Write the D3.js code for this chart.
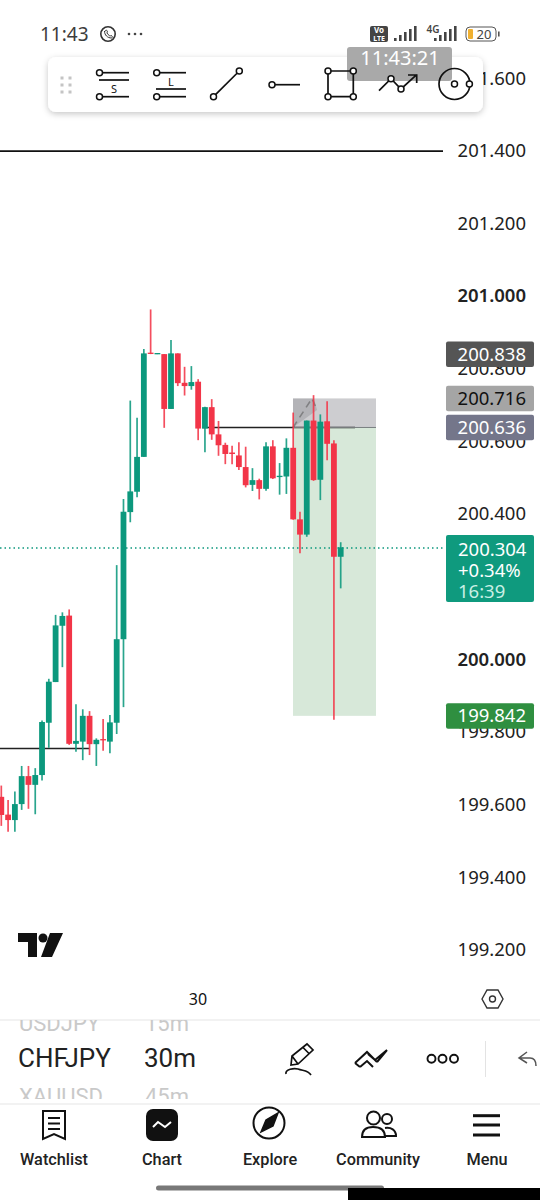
<!DOCTYPE html>
<html><head><meta charset="utf-8">
<script src="https://cdn.jsdelivr.net/npm/d3@7"></script>
<style>html,body{margin:0;padding:0;background:#fff}svg{display:block}text{font-family:"Noto Sans",sans-serif}</style>
</head><body><svg id="c" width="540" height="1200"></svg>
<script>
const priceTicks=[201.6,201.4,201.2,201.0,200.8,200.6,200.4,200.0,199.8,199.6,199.4,199.2];
const boldTicks=[201.0,200.0];
const opens=[199.619,199.570,199.555,199.599,199.676,199.652,199.679,199.823,199.935,200.090,200.118,199.765,199.771,199.842,199.764,199.778,199.771,199.823,200.053,200.403,200.459,200.555,200.842,200.838,200.838,200.687,200.840,200.759,200.750,200.762,200.633,200.692,200.617,200.588,200.567,200.559,200.527,200.478,200.491,200.467,200.584,200.501,200.501,200.580,200.383,200.341,200.655,200.492,200.653,200.592,200.280];
const closes=[199.569,199.555,199.599,199.676,199.652,199.679,199.825,199.936,200.091,200.117,199.765,199.773,199.842,199.764,199.776,199.776,199.824,200.053,200.404,200.460,200.555,200.840,200.839,200.841,200.687,200.840,200.758,200.750,200.761,200.633,200.692,200.617,200.587,200.563,200.563,200.527,200.477,200.491,200.467,200.584,200.496,200.503,200.580,200.383,200.341,200.655,200.491,200.652,200.591,200.280,200.306];
const highs=[199.650,199.610,199.634,199.704,199.704,199.698,199.829,199.944,200.120,200.127,200.135,199.874,199.860,199.855,199.780,199.833,199.844,200.257,200.439,200.710,200.663,200.852,200.961,200.841,200.838,200.877,200.840,200.803,200.805,200.769,200.693,200.714,200.654,200.594,200.586,200.595,200.583,200.524,200.495,200.595,200.601,200.538,200.606,200.677,200.404,200.655,200.725,200.672,200.708,200.601,200.320];
const lows=[199.539,199.523,199.523,199.583,199.586,199.571,199.664,199.754,199.935,199.976,199.762,199.743,199.720,199.734,199.704,199.746,199.739,199.792,199.866,200.375,200.444,200.555,200.838,200.838,200.635,200.687,200.750,200.724,200.740,200.601,200.568,200.602,200.558,200.535,200.535,200.519,200.471,200.461,200.438,200.462,200.494,200.451,200.453,200.382,200.290,200.335,200.489,200.436,200.546,199.831,200.193];
const resistance={price:201.397};
const lowerLine={price:199.752,from:-1,to:13};
const midLine={price:200.636,from:30,to:46};
const lastPrice=200.304;
const stopPrice=200.716, entryPrice=200.636, targetPrice=199.842, markPrice=200.838;
const priceTags=[
 {v:markPrice,label:"200.838",bg:"#555555",fg:"#ffffff"},
 {v:stopPrice,label:"200.716",bg:"#a5a5a5",fg:"#111111"},
 {v:entryPrice,label:"200.636",bg:"#74768a",fg:"#ffffff"},
 {v:targetPrice,label:"199.842",bg:"#2f8f40",fg:"#ffffff"}];
const lastLines=["200.304","+0.34%","16:39"];
const navItems=["Watchlist","Chart","Explore","Community","Menu"];
const navX=[54,162,270,378,487];

const UP="#0c987d",DOWN="#f23548";
const svg=d3.select("#c");
const y=d3.scaleLinear().domain([201.4,199.2]).range([150,949]);
const x=d3.scaleLinear().domain([0,50]).range([1.3,340.7]);
const idx=d3.range(opens.length);
const g=svg.append("g");

// position tool
const px0=293,px1=376;
g.append("rect").attr("x",px0).attr("width",px1-px0).attr("y",y(stopPrice)).attr("height",y(entryPrice)-y(stopPrice)).attr("fill","#cdcdd0");
g.append("rect").attr("x",px0).attr("width",px1-px0).attr("y",y(entryPrice)).attr("height",y(targetPrice)-y(entryPrice)).attr("fill","#d7e8d9");
g.append("path").attr("d",`M${px0} ${y(entryPrice)}L${px0} ${y(stopPrice)}L314 ${y(stopPrice)}L317 410Z`).attr("fill","#8f8f93").attr("opacity",.42);
g.append("path").attr("d",`M${px0} ${y(entryPrice)}L312 ${y(stopPrice)}L317 410`).attr("fill","none").attr("stroke","#808082").attr("stroke-width",1.6).attr("stroke-dasharray","7 5");

// horizontal lines
g.append("line").attr("x1",0).attr("x2",443).attr("y1",y(resistance.price)).attr("y2",y(resistance.price)).attr("stroke","#111").attr("stroke-width",1.7);
g.append("line").attr("x1",x(lowerLine.from)).attr("x2",x(lowerLine.to)).attr("y1",y(lowerLine.price)).attr("y2",y(lowerLine.price)).attr("stroke","#222").attr("stroke-width",1.6);
g.append("line").attr("x1",x(29.6)).attr("x2",355).attr("y1",y(midLine.price)).attr("y2",y(midLine.price)).attr("stroke","#222").attr("stroke-width",1.6);
g.append("line").attr("x1",px0).attr("x2",px1).attr("y1",y(entryPrice)).attr("y2",y(entryPrice)).attr("stroke","#7a7f80").attr("stroke-width",1);
g.append("line").attr("x1",0).attr("x2",443).attr("y1",y(lastPrice)).attr("y2",y(lastPrice)).attr("stroke",UP).attr("stroke-width",1.5).attr("stroke-dasharray","1.5 3");

// candles
const col=i=>closes[i]>=opens[i]?UP:DOWN;
g.selectAll("line.w").data(idx).join("line").attr("class","w")
 .attr("x1",i=>x(i)).attr("x2",i=>x(i)).attr("y1",i=>y(highs[i])).attr("y2",i=>y(lows[i]))
 .attr("stroke",col).attr("stroke-width",1.7).attr("stroke-opacity",.88);
g.selectAll("rect.b").data(idx).join("rect").attr("class","b")
 .attr("x",i=>x(i)-2.9).attr("width",5.8)
 .attr("y",i=>y(Math.max(opens[i],closes[i])))
 .attr("height",i=>Math.max(1.3,Math.abs(y(opens[i])-y(closes[i]))))
 .attr("fill",col);

// price axis
const axis=d3.axisRight(y).tickValues(priceTicks).tickFormat(d3.format(".3f")).tickSize(0).tickPadding(0);
const ax=svg.append("g").attr("transform","translate(526,0)").call(axis);
ax.select(".domain").remove();
ax.selectAll("text").attr("text-anchor","end").attr("x",0).attr("dy","0.36em")
  .attr("font-size",18.5).attr("fill","#222").attr("font-family",'"Noto Sans",sans-serif')
  .attr("font-weight",d=>boldTicks.includes(d)?600:400);

// price tags
const tag=svg.selectAll("g.t").data(priceTags).join("g").attr("class","t");
tag.append("rect").attr("x",446).attr("width",88).attr("height",25.5).attr("rx",2).attr("y",d=>y(d.v)-12.7).attr("fill",d=>d.bg);
tag.append("text").attr("x",526).attr("text-anchor","end").attr("y",d=>y(d.v)).attr("dy","0.36em").attr("font-size",18.5).attr("fill",d=>d.fg).text(d=>d.label);
svg.append("rect").attr("x",446).attr("y",535).attr("width",88).attr("height",67).attr("rx",2).attr("fill","#0f9a7e");
svg.selectAll("text.l").data(lastLines).join("text").attr("class","l").attr("x",458).attr("y",(d,i)=>549+i*21).attr("dy","0.36em").attr("font-size",18.5).attr("fill",(d,i)=>i==2?"#c8efe4":"#fff").text(d=>d);

// helper
const st=(s,w=1.7,f="none")=>s.attr("stroke","#111").attr("stroke-width",w).attr("fill",f);
const L=(p,a,b,c,d,w)=>st(p.append("line").attr("x1",a).attr("y1",b).attr("x2",c).attr("y2",d),w);
const C=(p,a,b,r,w=1.5,f="#fff")=>st(p.append("circle").attr("cx",a).attr("cy",b).attr("r",r),w,f);
const P=(p,d,w=1.7,f="none")=>st(p.append("path").attr("d",d),w,f);

// toolbar
const defs=svg.append("defs");
const fl=defs.append("filter").attr("id","sh").attr("x","-5%").attr("y","-20%").attr("width","110%").attr("height","150%");
fl.append("feDropShadow").attr("dx",0).attr("dy",2).attr("stdDeviation",3).attr("flood-color","#000").attr("flood-opacity",.22);
const tb=svg.append("g");
tb.append("rect").attr("x",48).attr("y",57).attr("width",435).attr("height",55).attr("rx",8).attr("fill","#fff").attr("filter","url(#sh)");
tb.append("rect").attr("x",347).attr("y",47).attr("width",105).attr("height",34).attr("rx",3).attr("fill","#a9a9a9");
tb.append("text").attr("x",400).attr("y",65).attr("text-anchor","middle").attr("font-size",20).attr("fill","#fff").text("11:43:21");
[[62,78],[62,85],[62,92],[70,78],[70,85],[70,92]].forEach(a=>tb.append("rect").attr("x",a[0]-1.5).attr("y",a[1]-1.5).attr("width",3).attr("height",3).attr("fill","#c4c4c4"));
L(tb,100,72.7,129,72.7);L(tb,99,80,129,80);L(tb,100,96.7,129,96.7);C(tb,99.5,72.7,3);C(tb,99.5,96.7,3);
tb.append("text").attr("x",114).attr("y",93).attr("text-anchor","middle").attr("font-size",11).attr("fill","#111").text("S");
L(tb,157,72.7,186,72.7);L(tb,156,89,186,89);L(tb,157,96.7,186,96.7);C(tb,156.7,72.7,3);C(tb,156.7,96.7,3);
tb.append("text").attr("x",171).attr("y",86).attr("text-anchor","middle").attr("font-size",11).attr("fill","#111").text("L");
L(tb,213.5,96.7,239.3,71);C(tb,213.5,96.7,3);C(tb,239.3,71,3);
L(tb,272,84.7,300,84.7);C(tb,272,84.7,3);
P(tb,"M328 71H353.3V96.7H328Z");[[328,71],[353.3,71],[328,96.7],[353.3,96.7]].forEach(a=>C(tb,a[0],a[1],3));
P(tb,"M379 90.7L391 78.7L401 89L416.7 74.7M408 75H416.7V83");C(tb,391,78.7,3);C(tb,401,89,3);
C(tb,454.5,84,15.5,1.7,"none");C(tb,454.5,84,3);C(tb,469.4,84,3);

// status bar
const sb=svg.append("g");
sb.append("text").attr("x",40).attr("y",34).attr("dy","0.36em").attr("font-size",19).attr("fill","#3c3c3c").text("11:43");
C(sb,108,34,7.2,1.6,"none").attr("stroke","#333");
P(sb,"M104.5 31c0 4 3 7 7 7c1 0 1-2 0-2.5c-1 0-1 .7-2 .2c-1-.6-2-1.6-2.5-2.7c-.3-.7.6-1 .4-1.8c-.4-1.2-2-1.5-2.9.8",1).attr("stroke","#333");
[129,135,141].forEach(a=>sb.append("circle").attr("cx",a).attr("cy",34).attr("r",1.3).attr("fill","#444"));
sb.append("rect").attr("x",370).attr("y",26).attr("width",18).attr("height",16).attr("rx",2).attr("fill","#444");
sb.append("text").attr("x",379).attr("y",33).attr("text-anchor","middle").attr("font-size",8).attr("font-weight",700).attr("fill","#fff").text("Vo");
sb.append("text").attr("x",379).attr("y",41).attr("text-anchor","middle").attr("font-size",7).attr("font-weight",700).attr("fill","#fff").text("LTE");
const bars=(x0)=>[3,6,9,12,15].forEach((h,i)=>sb.append("rect").attr("x",x0+i*5).attr("y",41-h).attr("width",2.6).attr("height",h).attr("fill","#444"));
bars(394);bars(434);
sb.append("text").attr("x",433).attr("y",33).attr("text-anchor","middle").attr("font-size",10).attr("font-weight",600).attr("fill","#444").text("4G");
sb.append("rect").attr("x",466).attr("y",27).attr("width",30).attr("height",14).attr("rx",4).attr("fill","none").attr("stroke","#555").attr("stroke-width",1);
sb.append("rect").attr("x",468).attr("y",29).attr("width",5).attr("height",10).attr("rx",1).attr("fill","#f0b030");
sb.append("text").attr("x",484).attr("y",34).attr("dy","0.36em").attr("text-anchor","middle").attr("font-size",13).attr("fill","#444").text("20");
sb.append("rect").attr("x",498).attr("y",31.5).attr("width",1.6).attr("height",5).attr("fill","#555");

// TV logo
svg.append("path").attr("fill","#111").attr("d","M18 933H37V957H28V942H18ZM50 933H63L52 957H41Z");
svg.append("circle").attr("cx",43).attr("cy",938).attr("r",4.5).attr("fill","#111");

// time axis
svg.append("text").attr("x",198).attr("y",999).attr("dy","0.36em").attr("text-anchor","middle").attr("font-size",16).attr("fill","#111").text("30");
P(svg,"M482 999L487 990H498L503 999L498 1008H487Z",1.4).attr("stroke","#333");C(svg,492.5,999,3,1.4,"none").attr("stroke","#333");

// separators & symbol picker
svg.append("rect").attr("y",1019.5).attr("width",540).attr("height",1).attr("fill","#e6e6e6");
const cp=defs.append("clipPath").attr("id","pk");cp.append("rect").attr("x",0).attr("y",1020).attr("width",540).attr("height",79);
const pk=svg.append("g").attr("clip-path","url(#pk)");
const T=(t,a,b,s,f,w=400)=>pk.append("text").attr("x",a).attr("y",b).attr("dy","0.36em").attr("font-size",s).attr("fill",f).attr("font-weight",w).style("font-family","Roboto").text(t);
T("USDJPY",19,1023,22,"#c9c9c9");T("15m",145,1023,22,"#c9c9c9");
T("CHFJPY",18,1058,26,"#222",400);T("30m",144,1058,26,"#222",400);
T("XAUUSD",19,1096,22,"#c9c9c9");T("45m",145,1096,22,"#c9c9c9");
svg.append("rect").attr("y",1103.5).attr("width",540).attr("height",1).attr("fill","#e6e6e6");

// action icons
P(svg,"M291 1065L292 1056L307 1044L313 1050L298 1064ZM292 1056L298 1064M303 1047.5L309 1053.5");
P(svg,"M286 1074C285 1069 294 1068 298 1069C303 1071 308 1070 311 1075");
P(svg,"M355 1063L367 1052L377 1062M360 1067L367 1061L373 1067M355 1063L360 1067M368 1054L375 1060L387 1050M377 1062L387 1050",2);
[431.5,442.5,454].forEach(a=>C(svg,a,1058.7,4,1.9,"none"));
svg.append("rect").attr("x",485).attr("y",1041).attr("width",1).attr("height",36).attr("fill","#e3e3e3");
P(svg,"M527 1052L519 1058L527 1063M519 1058H530C534 1058 536 1061 536 1066",1.5).attr("stroke","#555");

// nav
svg.selectAll("text.n").data(navItems).join("text").attr("class","n").attr("x",(d,i)=>navX[i]).attr("y",1159).attr("dy","0.36em")
 .attr("text-anchor","middle").attr("font-size",16.3).attr("font-weight",500).attr("fill","#222").style("font-family","Roboto").text(d=>d);
P(svg,"M43 1111H65V1139L54 1134L43 1139Z",2);L(svg,48,1118,60,1118,2);L(svg,48,1123.5,60,1123.5,2);L(svg,48,1129,60,1129,2);
svg.append("rect").attr("x",146).attr("y",1109).attr("width",32).attr("height",32).attr("rx",7).attr("fill","#111");
P(svg,"M153 1127L158 1122L165 1127L171 1122",2).attr("stroke","#fff");
C(svg,269,1123,15.5,2,"none");
P(svg,"M261 1132L266 1120L278 1113L273 1126Z",1.5,"#111");
C(svg,373.5,1118,6.5,2,"none");C(svg,387,1119,5,2,"none");
P(svg,"M362 1137C362 1130 366 1127 373 1127C381 1127 385 1130 385 1137Z",2);P(svg,"M385 1128C391 1127 396 1130 396 1136H385",2);
[1115.7,1125,1135].forEach(a=>L(svg,473,a,500,a,3));

// gesture bar
svg.append("rect").attr("x",156).attr("y",1185.5).attr("width",228).attr("height",5).attr("rx",2.5).attr("fill","#787878");
svg.append("rect").attr("x",348).attr("y",1188).attr("width",192).attr("height",12).attr("fill","#000");
</script></body></html>
